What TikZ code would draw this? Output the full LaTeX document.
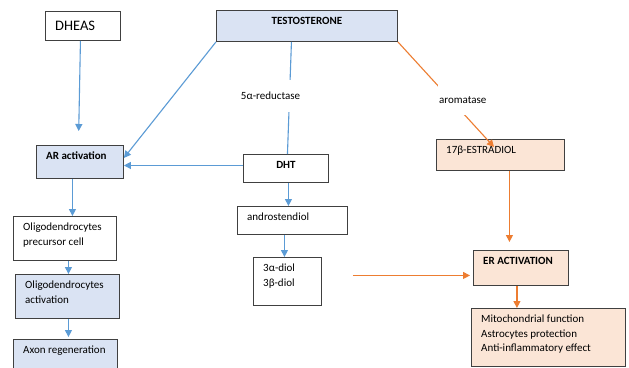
\documentclass[tikz,border=0pt]{standalone}
\usepackage{fontspec}
\setmainfont{Carlito}
\usetikzlibrary{arrows.meta,calc}
\definecolor{bluefill}{HTML}{DAE3F3}
\definecolor{peachfill}{HTML}{FBE5D6}
\definecolor{bluearrow}{HTML}{5B9BD5}
\definecolor{orangearrow}{HTML}{ED7D31}

\begin{document}
\begin{tikzpicture}[x=1pt, y=-1pt, >={Triangle[length=7pt,width=7pt]},
  font=\fontsize{11}{14.5}\selectfont,
  box/.style={draw=black!75, line width=0.9pt, fill=white, anchor=north west, inner sep=0pt},
  bluebox/.style={box, fill=bluefill},
  peachbox/.style={box, fill=peachfill},
  say/.style={label={[anchor=north west,inner sep=0pt,align=left,xshift=10pt,yshift=-7pt]north west:#1}},
  sayc/.style={label={[anchor=north,inner sep=0pt,yshift=-7pt]north:#1}},
  bflow/.style={->,line width=1.1pt,bluearrow},
  oflow/.style={->,line width=1.1pt,orangearrow},
  enz/.style={fill=white,text=black,inner xsep=1pt,inner ysep=12pt}]
 \path[use as bounding box, fill=white] (0,0) rectangle (629,367);
 % androgen side
 \node[box, minimum width=75pt, minimum height=29pt,
   label={[anchor=north west,inner sep=0pt,xshift=10pt,yshift=-9.5pt,font=\fontsize{14.5}{17}\selectfont]north west:DHEAS}] (dheas) at (45,11) {};
 \node[bluebox, minimum width=181pt, minimum height=31pt, sayc={\bfseries TESTOSTERONE}] (testo) at (216,10) {};
 \node[bluebox, minimum width=87pt, minimum height=33pt, say={\bfseries AR activation}] (ar) at (36,145) {};
 \node[box, minimum width=85pt, minimum height=28pt, sayc={\bfseries DHT}] (dht) at (243,154) {};
 \node[box, minimum width=103pt, minimum height=44pt, say={Oligodendrocytes\\precursor cell}] (opc) at (13,216) {};
 \node[bluebox, minimum width=104pt, minimum height=44pt, say={Oligodendrocytes\\activation}] (oact) at (15,274) {};
 \node[bluebox, minimum width=104pt, minimum height=35pt, say={Axon regeneration}] (axon) at (13,339) {};
 \node[box, minimum width=110pt, minimum height=28pt, say={androstendiol}] (adiol) at (237,206) {};
 \node[box, minimum width=68pt, minimum height=48pt, say={3α-diol\\3β-diol}] (diol) at (253,257) {};
 % estrogen side
 \node[peachbox, minimum width=128pt, minimum height=31pt, say={17β-ESTRADIOL}] (estr) at (436,139) {};
 \node[peachbox, minimum width=95pt, minimum height=35pt, say={\bfseries ER ACTIVATION}] (er) at (473,250) {};
 \node[peachbox, minimum width=154pt, minimum height=58pt,
   say={Mitochondrial function\\Astrocytes protection\\Anti-inflammatory effect}] (mito) at (471,308) {};
 % blue arrows
 \draw[bflow, shorten >=14pt] ([xshift=-2.5pt]dheas.south) -- ([xshift=-1.5pt]ar.north);
 \draw[bflow] (testo.south west) -- ([yshift=4pt]ar.east);
 \draw[line width=1.1pt, bluearrow] ([xshift=-15.5pt]testo.south) -- ([xshift=1.5pt]dht.north)
   node[enz, pos=0.48, xshift=-19pt] {5α-reductase};
 \draw[bflow] ([yshift=3pt]dht.west) -- ([yshift=3pt]dht.west -| ar.east);
 \draw[bflow] ([xshift=-7.5pt]ar.south) -- ([xshift=-7.5pt]ar.south |- opc.north);
 \draw[bflow] ([xshift=3.5pt]opc.south) -- ([xshift=3.5pt]opc.south |- oact.north);
 \draw[bflow, shorten >=2pt] ([xshift=1pt]oact.south) -- ([xshift=1pt]oact.south |- axon.north);
 \draw[bflow] ([xshift=2.5pt]dht.south) -- ([xshift=2.5pt]dht.south |- adiol.north);
 \draw[bflow] ([xshift=-8pt]adiol.south) -- ([xshift=-8pt]adiol.south |- diol.north);
 % orange arrows
 \draw[oflow] (testo.south east) -- ([xshift=58pt,yshift=-8pt]estr.north west)
   node[enz, pos=0.55, xshift=12pt] {aromatase};
 \draw[oflow, shorten >=8pt] ([xshift=9pt]estr.south) -- ([xshift=9pt]estr.south |- er.north);
 \draw[oflow, shorten <=31pt, shorten >=3pt] ([yshift=6pt]diol.east) -- ([yshift=6pt]diol.east -| er.west);
 \draw[oflow] ([xshift=-4pt]er.south) -- ([xshift=-4pt]er.south |- mito.north);
\end{tikzpicture}
\end{document}
